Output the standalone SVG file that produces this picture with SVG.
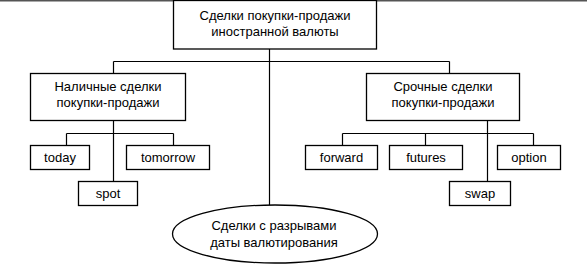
<svg xmlns="http://www.w3.org/2000/svg" width="587" height="266" viewBox="0 0 587 266">
<style>
.b{fill:#fff;stroke:#000;stroke-width:1.3}
.c{fill:none;stroke:#000;stroke-width:1.2}
text{font-family:"Liberation Sans",Arial,sans-serif;font-size:13px;fill:#000;text-anchor:middle}
</style>
<rect width="587" height="266" fill="#fff"/>
<line x1="0" y1="0.8" x2="587" y2="0.8" stroke="#555" stroke-width="1.6"/>
<g id="connectors">
<path class="c" d="M269.5 49V205"/>
<path class="c" d="M113.5 61.5H449.5M113.5 61.5V73M449.5 61.5V73"/>
<path class="c" d="M113.5 121V181M66.5 133.5H173.5M66.5 133.5V145M173.5 133.5V145"/>
<path class="c" d="M487.5 121V181M342.5 133.5H533.5M342.5 133.5V145M425.5 133.5V145M533.5 133.5V145"/>
</g>
<g id="root"><rect class="b" x="173.5" y="0.5" width="203" height="48.5"/><text x="275" y="20">Сделки покупки-продажи</text><text x="275" y="36">иностранной валюты</text></g>
<g id="cash"><rect class="b" x="30.5" y="73.5" width="155" height="47"/><text x="108" y="91">Наличные сделки</text><text x="108" y="107">покупки-продажи</text></g>
<g id="forward-deals"><rect class="b" x="366.5" y="73.5" width="153" height="47"/><text x="443" y="91">Срочные сделки</text><text x="443" y="107">покупки-продажи</text></g>
<g id="today"><rect class="b" x="30.5" y="145.5" width="59" height="24"/><text x="60" y="162">today</text></g>
<g id="tomorrow"><rect class="b" x="126.5" y="145.5" width="83" height="24"/><text x="168" y="162">tomorrow</text></g>
<g id="spot"><rect class="b" x="78.5" y="181.5" width="59" height="24"/><text x="108" y="198">spot</text></g>
<g id="forward"><rect class="b" x="305.5" y="145.5" width="72" height="24"/><text x="341.5" y="162">forward</text></g>
<g id="futures"><rect class="b" x="389.5" y="145.5" width="73" height="24"/><text x="426" y="162">futures</text></g>
<g id="option"><rect class="b" x="497.5" y="145.5" width="63" height="24"/><text x="529" y="162">option</text></g>
<g id="swap"><rect class="b" x="449.5" y="181.5" width="61" height="24"/><text x="480" y="198">swap</text></g>
<g id="broken-dates"><ellipse class="b" cx="275" cy="234" rx="102.5" ry="29"/><text x="274" y="230">Сделки с разрывами</text><text x="274" y="247">даты валютирования</text></g>
</svg>
